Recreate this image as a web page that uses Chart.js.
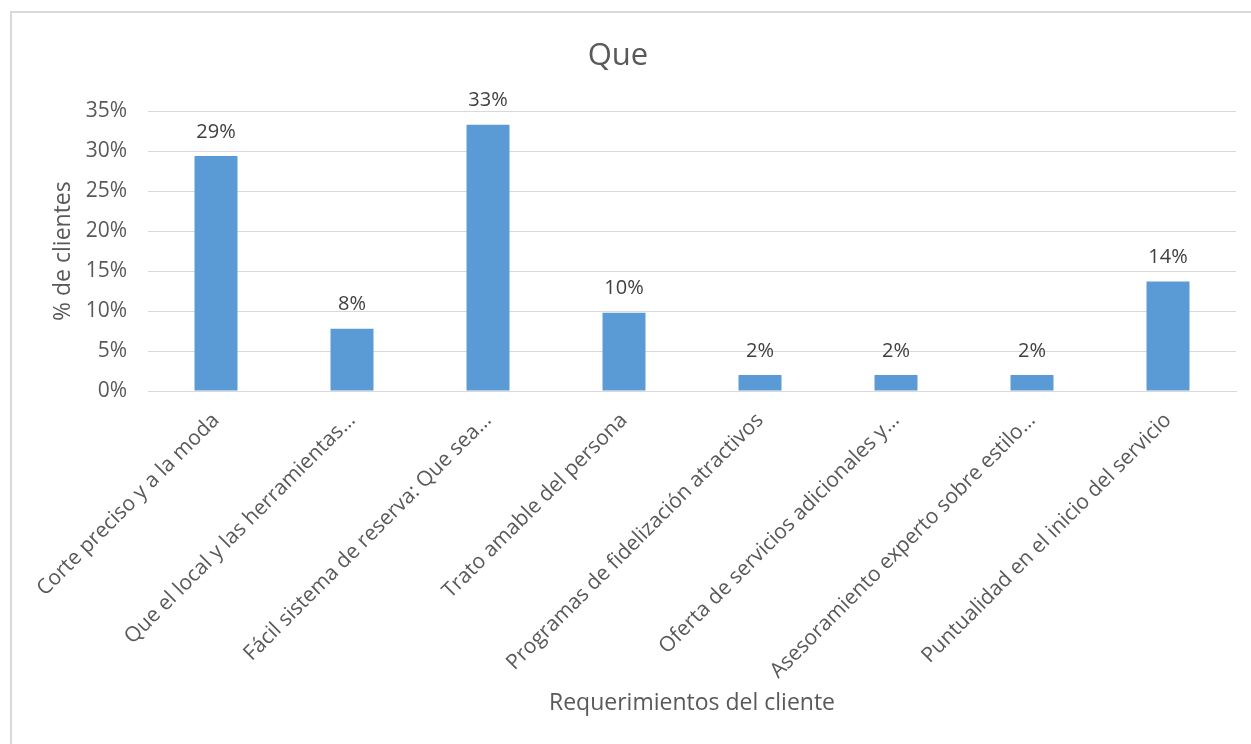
<!DOCTYPE html>
<html>
<head>
<meta charset="utf-8">
<title>Que</title>
<script src="https://cdn.jsdelivr.net/npm/chart.js@4"></script>
<style>
  html, body { margin: 0; padding: 0; background: #fff; overflow: hidden; }
  #wrap { position: relative; width: 1251px; height: 744px; }
  #frame {
    position: absolute; left: 10px; top: 11px; width: 1260px; height: 760px;
    border: 2px solid #d9d9d9; pointer-events: none;
  }
</style>
</head>
<body>
<div id="wrap">
  <canvas id="chart" width="1251" height="744"></canvas>
  <div id="frame"></div>
</div>
<script>
// Requerimientos del cliente y porcentaje de clientes
const categorias = [
  "Corte preciso y a la moda",
  "Que el local y las herramientas…",
  "Fácil sistema de reserva: Que sea…",
  "Trato amable del persona",
  "Programas de fidelización atractivos",
  "Oferta de servicios adicionales y…",
  "Asesoramiento experto sobre estilo…",
  "Puntualidad en el inicio del servicio"
];
const porcentajes = [29.4, 7.8, 33.3, 9.8, 2.0, 2.0, 2.0, 13.7];
const ticksY = [0, 5, 10, 15, 20, 25, 30, 35];

const FONT = "'Open Sans', sans-serif";

// Dibuja el valor redondeado encima de cada barra
const etiquetasBarras = {
  id: "etiquetasBarras",
  afterDatasetsDraw(chart) {
    const ctx = chart.ctx;
    const meta = chart.getDatasetMeta(0);
    ctx.save();
    ctx.font = "20px " + FONT;
    ctx.fillStyle = "#404040";
    ctx.textAlign = "center";
    ctx.textBaseline = "middle";
    meta.data.forEach((bar, i) => {
      const v = chart.data.datasets[0].data[i];
      ctx.fillText(Math.round(v) + "%", bar.x, bar.y - 24);
    });
    ctx.restore();
  }
};

new Chart(document.getElementById("chart"), {
  type: "bar",
  data: {
    labels: categorias,
    datasets: [{
      label: "% de clientes",
      data: porcentajes,
      backgroundColor: "#5b9bd5",
      categoryPercentage: 1,
      barPercentage: 0.316
    }]
  },
  options: {
    responsive: false,
    animation: false,
    layout: { padding: { left: 0, right: 15, top: 0, bottom: 0 } },
    plugins: {
      legend: { display: false },
      tooltip: { enabled: false },
      title: {
        display: true,
        text: "Que",
        color: "#595959",
        font: { family: FONT, size: 31, weight: "normal" },
        padding: { top: 38, bottom: 36 }
      }
    },
    scales: {
      x: {
        grid: { display: false, drawTicks: false },
        border: { color: "#d9d9d9", width: 1 },
        ticks: {
          color: "#595959",
          font: { family: FONT, size: 21 },
          autoSkip: false,
          maxRotation: 45,
          minRotation: 45,
          padding: 17
        },
        title: {
          display: true,
          text: "Requerimientos del cliente",
          color: "#595959",
          font: { family: FONT, size: 23 },
          padding: { top: 0, bottom: 27 }
        },
        afterFit(scale) { scale.height = 353; }
      },
      y: {
        min: 0,
        max: 35,
        afterBuildTicks(scale) { scale.ticks = ticksY.map(v => ({ value: v })); },
        grid: { color: "#d9d9d9", lineWidth: 1, drawTicks: false },
        border: { display: false },
        ticks: {
          color: "#595959",
          font: { family: FONT, size: 21 },
          padding: 21,
          callback: v => v + "%"
        },
        title: {
          display: true,
          text: "% de clientes",
          color: "#595959",
          font: { family: FONT, size: 23 },
          padding: { top: 50, bottom: 0 }
        },
        afterFit(scale) { scale.width = 148; }
      }
    }
  },
  plugins: [etiquetasBarras]
});
</script>
</body>
</html>
